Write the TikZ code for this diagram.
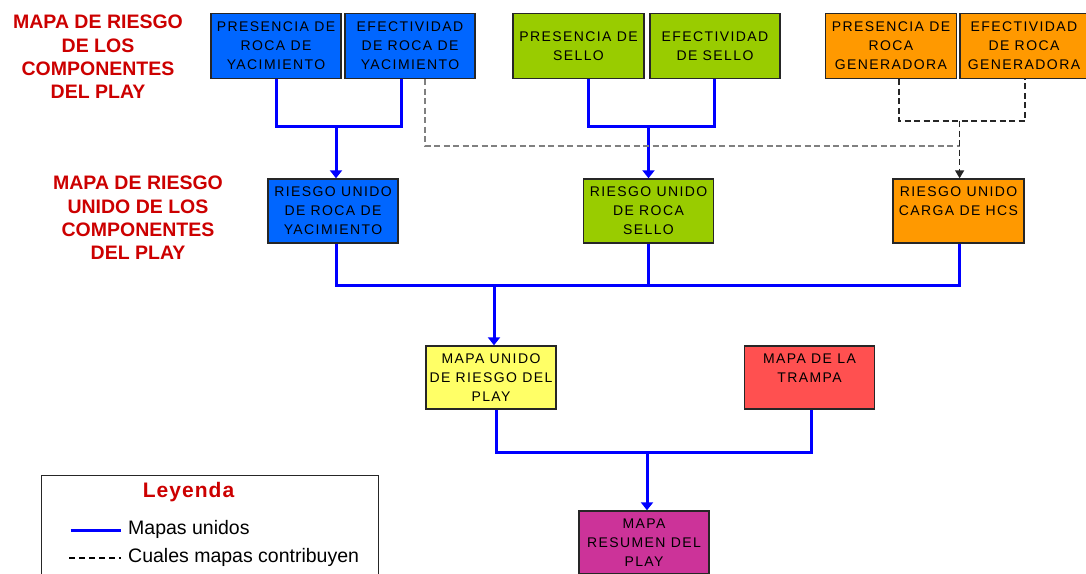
\documentclass[tikz,border=0pt]{standalone}
\usepackage{fontspec}
\setmainfont{Liberation Sans}
\newfontfamily\boxfont[LetterSpace=10]{Liberation Sans}
\newfontfamily\legfont[LetterSpace=5]{Liberation Sans}
\usetikzlibrary{arrows.meta,positioning,calc}
\definecolor{rocablue}{RGB}{0,102,255}
\definecolor{sellogreen}{RGB}{153,204,0}
\definecolor{genorange}{RGB}{255,153,0}
\definecolor{playyellow}{RGB}{255,255,102}
\definecolor{trampared}{RGB}{255,80,80}
\definecolor{resumenmag}{RGB}{204,51,153}
\definecolor{titlered}{RGB}{204,0,0}

\begin{document}
\begin{tikzpicture}[
            x=1pt, y=-1pt,
            every node/.style={font=\boxfont\fontsize{14}{19}\selectfont},
            box/.style={draw=black!85, line width=1.4, minimum width=130, minimum height=65, inner sep=0pt, align=center},
            titulo/.style={text=titlered, align=center, font=\bfseries\fontsize{19.5}{23.3}\selectfont},
            unido/.style={draw=blue, line width=3},
            unidoarrow/.style={unido, -{Triangle[width=12pt,length=8pt]}},
            contrib/.style={draw=gray, line width=1.8, dash pattern=on 6pt off 3.5pt},
            contribarrow/.style={draw=black!85, line width=1.5, dash pattern=on 6pt off 3.5pt, -{Triangle[width=9pt,length=8pt]}},
        ]
            \useasboundingbox (0,0) rectangle (1086,573);
            \clip (0,0) rectangle (1086,573);

            \node[titulo] (t1) at (98,57) {MAPA DE RIESGO\\DE LOS\\COMPONENTES\\DEL PLAY};
            \node[titulo] (t2) at (138,218) {MAPA DE RIESGO\\UNIDO DE LOS\\COMPONENTES\\DEL PLAY};

            \node[box, fill=rocablue] (pry) at (276,46) {PRESENCIA DE\\ROCA DE\\YACIMIENTO};
            \node[box, fill=rocablue] (ery) at (410,46) {EFECTIVIDAD\\DE ROCA DE\\YACIMIENTO};
            \node[box, fill=sellogreen, minimum width=131] (ps) at (578.5,46) {PRESENCIA DE\\SELLO};
            \node[box, fill=sellogreen] (es) at (715,46) {EFECTIVIDAD\\DE SELLO};
            \node[box, fill=genorange, minimum width=131] (prg) at (891,46) {PRESENCIA DE\\ROCA\\GENERADORA};
            \node[box, fill=genorange, minimum width=128] (erg) at (1024,46) {EFECTIVIDAD\\DE ROCA\\GENERADORA};

            \node[box, fill=rocablue, minimum height=64] (ryac) at (333,211) {RIESGO UNIDO\\DE ROCA DE\\YACIMIENTO};
            \node[box, fill=sellogreen, minimum height=64] (rsello) at (648.5,211) {RIESGO UNIDO\\DE ROCA\\SELLO};
            \node[box, fill=genorange, minimum width=131, minimum height=64] (rhcs) at (958.5,211) {RIESGO UNIDO\\CARGA DE HCS\\~};

            \node[box, fill=playyellow, minimum height=63] (munido) at (491,377.5) {MAPA UNIDO\\DE RIESGO DEL\\PLAY};
            \node[box, fill=trampared, minimum height=63] (trampa) at (809.5,377.5) {MAPA DE LA\\TRAMPA\\~};
            \node[box, fill=resumenmag, minimum height=63] (resumen) at (644,542.5) {MAPA\\RESUMEN DEL\\PLAY};

            \coordinate (jyac) at (336,126);
            \coordinate (jsello) at (648.5,126);
            \coordinate (jgen) at (959.6,121);
            \coordinate (jcontrib) at (959.6,146);
            \coordinate (jriesgo) at (494,285);
            \coordinate (jplay) at (647,452.7);

            \draw[unido] (pry.south) |- (jyac) -| ([xshift=-9pt]ery.south);
            \draw[unidoarrow] (jyac) -- (jyac |- ryac.north);
            \draw[unido] ([xshift=10pt]ps.south) |- (jsello) -| ([xshift=-1pt]es.south);
            \draw[unidoarrow] (jsello) -- (rsello.north);
            \draw[contrib, draw=black!85] ([xshift=8pt]prg.south) |- (jgen) -| ([xshift=1pt]erg.south);
            \draw[contrib] ([xshift=15pt]ery.south) |- (jcontrib);
            \draw[contribarrow] (jgen) -- (jgen |- rhcs.north);

            \draw[unido] ([xshift=3pt]ryac.south) |- (jriesgo) -| ([xshift=1pt]rhcs.south);
            \draw[unido] (rsello.south) -- (rsello.south |- jriesgo);
            \draw[unidoarrow] (jriesgo) -- (jriesgo |- munido.north);
            \draw[unido] ([xshift=5pt]munido.south) |- (jplay) -| ([xshift=2pt]trampa.south);
            \draw[unidoarrow] (jplay) -- (jplay |- resumen.north);

            \node[draw=black!85, line width=1.2, minimum width=337, minimum height=120, anchor=north west, inner sep=0pt] (leyenda) at (41,475) {};
            \node[font=\legfont\bfseries\fontsize{21}{24}\selectfont, text=titlered] (leytit) at (188.5,492) {Leyenda};
            \coordinate (lu1) at (70.6,530);
            \coordinate (lu2) at (120.5,530);
            \draw[unido] (lu1) -- (lu2);
            \node[anchor=west, inner sep=0pt, font=\fontsize{19.5}{23}\selectfont] (leyunido) at (128,529) {Mapas unidos};
            \coordinate (lc1) at (69,558);
            \coordinate (lc2) at (120.5,558);
            \draw[black, line width=1.2, dash pattern=on 6pt off 4pt] (lc1) -- (lc2);
            \node[anchor=west, inner sep=0pt, font=\fontsize{19.5}{23}\selectfont] (leycontrib) at (128,557) {Cuales mapas contribuyen};
        \end{tikzpicture}
\end{document}
